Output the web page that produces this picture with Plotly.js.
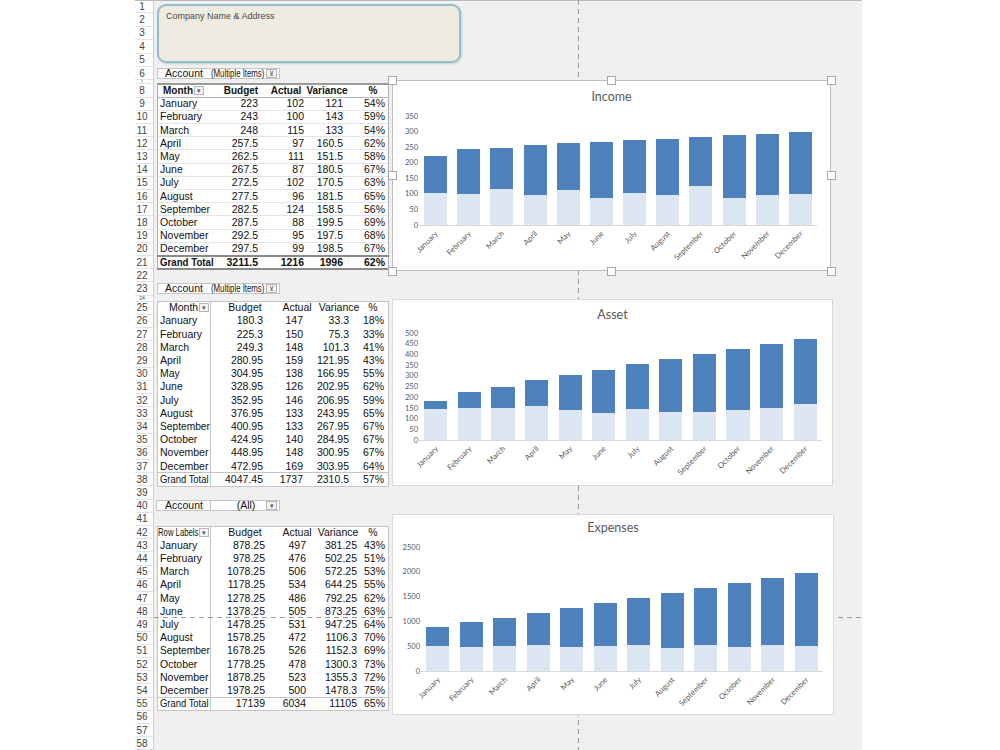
<!DOCTYPE html>
<html><head><meta charset="utf-8">
<script src="https://cdn.plot.ly/plotly-3.0.1.min.js"></script>
<style>
html,body{margin:0;padding:0;background:#fff;width:1000px;height:750px;overflow:hidden;font-family:'Liberation Sans',Arial,sans-serif;}
#root{position:relative;width:1000px;height:750px;overflow:hidden;}
</style></head><body><div id="root"></div>
<script>
// ---------- DATA ----------
const months = ['January','February','March','April','May','June','July','August','September','October','November','December'];

const incomeBudget   = [223,243,248,257.5,262.5,267.5,272.5,277.5,282.5,287.5,292.5,297.5];
const incomeActual   = [102,100,115,97,111,87,102,96,124,88,95,99];
const incomeVariance = [121,143,133,160.5,151.5,180.5,170.5,181.5,158.5,199.5,197.5,198.5];
const incomePct      = [54,59,54,62,58,67,63,65,56,69,68,67];
const incomeTotals   = [3211.5,1216,1996,62];

const assetBudget   = [180.3,225.3,249.3,280.95,304.95,328.95,352.95,376.95,400.95,424.95,448.95,472.95];
const assetActual   = [147,150,148,159,138,126,146,133,133,140,148,169];
const assetVariance = [33.3,75.3,101.3,121.95,166.95,202.95,206.95,243.95,267.95,284.95,300.95,303.95];
const assetPct      = [18,33,41,43,55,62,59,65,67,67,67,64];
const assetTotals   = [4047.45,1737,2310.5,57];

const expBudget   = [878.25,978.25,1078.25,1178.25,1278.25,1378.25,1478.25,1578.25,1678.25,1778.25,1878.25,1978.25];
const expActual   = [497,476,506,534,486,505,531,472,526,478,523,500];
const expVariance = [381.25,502.25,572.25,644.25,792.25,873.25,947.25,1106.3,1152.3,1300.3,1355.3,1478.3];
const expPct      = [43,51,53,55,62,63,64,70,69,73,72,75];
const expTotals   = [17139,6034,11105,65];

const headerLabels = ['Budget','Actual','Variance','%'];
const chartTitles = ['Income','Asset','Expenses'];

// ---------- HELPERS ----------
const root = document.getElementById('root');
function box(x,y,w,h,style){
  const d=document.createElement('div');
  Object.assign(d.style,{position:'absolute',left:x+'px',top:y+'px',width:w+'px',height:h+'px',boxSizing:'border-box'},style||{});
  root.appendChild(d); return d;
}
// text; when fit=[x1,x2] is given the text is squeezed horizontally to fit that cell
function putText(str, ax, anchor, y, h, fit, style){
  const base={whiteSpace:'nowrap',lineHeight:h+'px',fontSize:'10.5px',color:'#111'};
  if(fit){
    const d=box(ax,y,fit[1]-ax,h,Object.assign({},base,style||{}));
    const s=document.createElement('span');
    s.style.display='inline-block'; s.style.transformOrigin='0 50%';
    s.textContent=str; d.appendChild(s);
    const avail=fit[1]-ax-0.5, nat=s.offsetWidth;
    if(nat>avail) s.style.transform='scaleX('+(avail/nat).toFixed(3)+')';
    return d;
  }
  const w=240;
  let x=anchor==='left'?ax:(anchor==='right'?ax-w:ax-w/2);
  const d=box(x,y,w,h,Object.assign({textAlign:anchor==='left'?'left':(anchor==='right'?'right':'center')},base,style||{}));
  d.textContent=str; return d;
}
function rowH(n){ return n<=6?13.4:(n===7?4:(n===24?6:13.2)); }
function rowTop(n){ let y=-0.5; for(let i=1;i<n;i++) y+=rowH(i); return y; }
function hline(x1,x2,y,color,w){ box(x1,y,x2-x1,w||1,{background:color}); }
function vline(x,y1,y2,color,w){ box(x,y1,w||1,y2-y1,{background:color}); }
function dropBtn(x,y,w,h,glyph){
  const b=box(x,y,w,h,{border:'1px solid #b5b5b5',background:'#f4f4f4',fontSize:'7px',color:'#555',textAlign:'center',lineHeight:(h-2)+'px',overflow:'hidden'});
  b.textContent=glyph; return b;
}

// ---------- SHEET ----------
box(153,0,709,750,{background:'#f0f0f0'});
hline(135,862,0,'#b9b9b9',1);
for(let n=1;n<=58;n++){
  const t=rowTop(n), h=rowH(n);
  const small=h<10;
  putText(String(n),142,'center',t,h,null,{fontSize:small?(h-1)+'px':'10px',color:'#444',width:'20px',left:'132px'});
  hline(135,153,t+h-0.5,'#e2e2e2',1);
}
vline(153,0,750,'#cfcfcf',1);

// company box
box(157,3.5,304,59,{background:'#eeece1',border:'2px solid #92bfcc',borderRadius:'9px',boxShadow:'1px 1px 2px rgba(0,0,0,0.15)'});
putText('Company Name & Address',166,'left',10,13,null,{fontSize:'9px',color:'#4a4a4a',width:'200px'});

// filter boxes
function filterBox(row, valueText){
  const t=rowTop(row)+1, h=rowH(row)-2;
  box(157,t,123,h,{background:'#fff',border:'1px solid #c4c4c4'});
  putText('Account',165,'left',t,h,null,{width:'44px'});
  putText(valueText,211,'left',t,h,[211,265]);
  dropBtn(266,t+1,11,h-2,'⊻');
}
filterBox(6,'(Multiple Items)');
filterBox(23,'(Multiple Items)');
{
  const t=rowTop(40)+1,h=rowH(40)-2;
  box(156,t,55,h,{background:'#fff',border:'1px solid #c4c4c4'});
  box(210,t,70,h,{background:'#fff',border:'1px solid #c4c4c4'});
  putText('Account',165,'left',t,h,null,{width:'44px'});
  putText('(All)',246,'center',t,h,null,{width:'40px',left:'226px'});
  dropBtn(266,t+1,11,h-2,'▾');
}

// tables
function fmt(v){ return String(v); }
function drawTable(o){
  const top=rowTop(o.hdr), bottom=rowTop(o.hdr+14);
  box(157,top,231,bottom-top,{background:'#fff'});
  const ht=rowTop(o.hdr), hh=rowH(o.hdr);
  const hs=o.bold?{fontWeight:'bold',fontSize:'10px'}:{};
  putText(o.firstHeader,o.firstX,'left',ht,hh,[o.firstX,o.dropX],hs);
  dropBtn(o.dropX,ht+2,10,hh-4,'▾');
  for(let k=0;k<4;k++){
    const hw=o.hw[k];
    putText(headerLabels[k],o.hc[k],'center',ht,hh,null,Object.assign({width:hw+'px',left:(o.hc[k]-hw/2)+'px'},hs));
  }
  for(let i=0;i<12;i++){
    const r=o.hdr+1+i, t=rowTop(r), h=rowH(r);
    putText(months[i],160,'left',t,h,[160,210]);
    const vals=[fmt(o.budget[i]),fmt(o.actual[i]),fmt(o.variance[i]),o.pct[i]+'%'];
    for(let k=0;k<4;k++) putText(vals[k],o.vr[k],'right',t,h,null,{width:o.vw[k]+'px',left:(o.vr[k]-o.vw[k])+'px'});
    if(o.bold) hline(158,388,t+h-0.5,'#e4e4e4',1);
  }
  const r=o.hdr+13, t=rowTop(r), h=rowH(r);
  const ts=o.bold?{fontWeight:'bold'}:{};
  putText('Grand Total',160,'left',t,h,[160,o.bold?214:209],ts);
  const tv=[fmt(o.totals[0]),fmt(o.totals[1]),fmt(o.totals[2]),o.totals[3]+'%'];
  for(let k=0;k<4;k++) putText(tv[k],o.vr[k],'right',t,h,null,Object.assign({width:o.vw[k]+'px',left:(o.vr[k]-o.vw[k])+'px'},ts));
  if(o.bold){
    box(157,top,232,bottom-top+1,{border:'1px solid #b0b0b0'});
    hline(157,389,top-0.5,'#9a9a9a',2);
    hline(157,389,top+hh-0.5,'#b5b5b5',1);
    hline(157,389,t-1,'#8a8a8a',2);
    hline(157,389,bottom-0.5,'#8a8a8a',2);
  } else {
    box(157,top,232,bottom-top+1,{border:'1px solid #c4c4c4'});
    vline(210,top,bottom,'#c4c4c4',1);
    hline(157,389,t-0.5,'#c4c4c4',1);
  }
}
drawTable({hdr:8,bold:true,firstHeader:'Month',firstX:163,dropX:194,
  hc:[241,286,327,373],hw:[44,34,44,14],
  vr:[258,304,343,385],vw:[44,40,36,30],
  budget:incomeBudget,actual:incomeActual,variance:incomeVariance,pct:incomePct,totals:incomeTotals});
drawTable({hdr:25,bold:false,firstHeader:'Month',firstX:169,dropX:199,
  hc:[245,297,339,373],hw:[44,38,46,14],vr:[263,303,349,384],vw:[50,36,42,30],
  budget:assetBudget,actual:assetActual,variance:assetVariance,pct:assetPct,totals:assetTotals});
drawTable({hdr:42,bold:false,firstHeader:'Row Labels',firstX:158,dropX:199,
  hc:[245,297,338,373],hw:[44,38,46,14],vr:[265,306,357,385],vw:[52,36,46,26],
  budget:expBudget,actual:expActual,variance:expVariance,pct:expPct,totals:expTotals});

// page-break dashed lines
const svgNS='http://www.w3.org/2000/svg';
const svg=document.createElementNS(svgNS,'svg');
svg.setAttribute('width','1000');svg.setAttribute('height','750');
Object.assign(svg.style,{position:'absolute',left:'0',top:'0'});
function dl(x1,y1,x2,y2){const l=document.createElementNS(svgNS,'line');
  l.setAttribute('x1',x1);l.setAttribute('y1',y1);l.setAttribute('x2',x2);l.setAttribute('y2',y2);
  l.setAttribute('stroke','#9c9c9c');l.setAttribute('stroke-width','1');l.setAttribute('stroke-dasharray','5,4');svg.appendChild(l);}
dl(578.5,0,578.5,750); dl(154,617.5,862,617.5);
root.appendChild(svg);

// ---------- CHARTS ----------
const charts=[
  {title:chartTitles[0],actual:incomeActual,variance:incomeVariance,ymax:350,dtick:50,
   frame:[392,80,439,191],plot:[419,817,115.7,225],titleY:17,selected:true},
  {title:chartTitles[1],actual:assetActual,variance:assetVariance,ymax:500,dtick:50,
   frame:[392,299,441,187],plot:[419,822,332.7,440.3],titleY:16},
  {title:chartTitles[2],actual:expActual,variance:expVariance,ymax:2500,dtick:500,
   frame:[392,514,442,201],plot:[421,823,547,671],titleY:14}
];
charts.forEach((c,idx)=>{
  const [fx,fy,fw,fh]=c.frame;
  const d=box(fx,fy,fw,fh,{background:'#fff'});
  d.id='chart'+idx;
  const m={l:c.plot[0]-fx, r:fx+fw-c.plot[1], t:c.plot[2]-fy, b:fy+fh-c.plot[3], pad:0};
  const traces=[
    {type:'bar',x:months,y:c.actual,marker:{color:'#dce6f2'},hoverinfo:'skip',name:'Actual'},
    {type:'bar',x:months,y:c.variance,marker:{color:'#4f81bd'},hoverinfo:'skip',name:'Variance'}
  ];
  const layout={width:fw,height:fh,margin:m,paper_bgcolor:'#fff',plot_bgcolor:'#fff',
    barmode:'stack',bargap:0.31,showlegend:false,
    font:{family:'Lato, "Liberation Sans", sans-serif',color:'#595959',size:7.5},
    title:{text:c.title,font:{size:12.5,color:'#595959',family:'Lato, "Liberation Sans", sans-serif'},
      x:0.5,xanchor:'center',xref:'container',y:1-c.titleY/fh,yanchor:'middle',yref:'container'},
    xaxis:{type:'category',tickangle:-45,tickfont:{size:7.8,color:'#595959'},showline:true,linecolor:'#d9d9d9',linewidth:1,
      ticks:'',showgrid:false,zeroline:false,automargin:false,fixedrange:true},
    yaxis:{range:[0,c.ymax],tick0:0,dtick:c.dtick,tickformat:'d',showgrid:false,zeroline:false,showline:false,ticks:'',
      tickfont:{size:7.5,color:'#595959'},automargin:false,fixedrange:true}
  };
  Plotly.newPlot(d,traces,layout,{staticPlot:true,displayModeBar:false});
  box(fx,fy,fw,fh,{border:c.selected?'1px solid #bdbdbd':'1px solid #d9d9d9',pointerEvents:'none'});
  if(c.selected){
    const xs=[fx,fx+fw/2,fx+fw], ys=[fy,fy+fh/2,fy+fh];
    xs.forEach((x,i)=>ys.forEach((y,j)=>{ if(i===1&&j===1) return;
      box(x-4.5,y-4.5,9,9,{background:'#fff',border:'1px solid #a8a8a8'}); }));
  }
});
</script></body></html>
